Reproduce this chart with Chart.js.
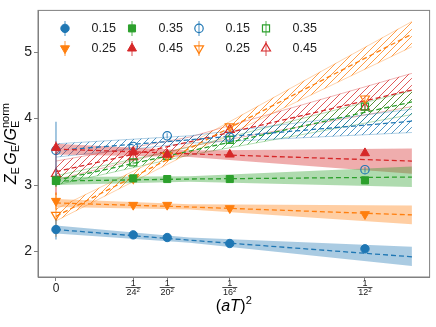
<!DOCTYPE html>
<html>
<head>
<meta charset="utf-8">
<script src="https://cdn.jsdelivr.net/npm/chart.js@4.4.1/dist/chart.umd.min.js"></script>
<style>
  html, body { margin: 0; padding: 0; background: #fff; }
</style>
</head>
<body>
<canvas id="chart" width="436" height="327"></canvas>
<script>
// ---------------------------------------------------------------------------
// Data
// ---------------------------------------------------------------------------
const X_VALUES = [0, 1 / 24 ** 2, 1 / 20 ** 2, 1 / 16 ** 2, 1 / 12 ** 2];
const X_DENOMS = [null, '24', '20', '16', '12'];
const Y_TICKS = [2, 3, 4, 5];
const LABELS = ['0.15', '0.25', '0.35', '0.45'];

// filled markers
const filled015 = [2.33, 2.25, 2.21, 2.12, 2.04];
const filled025 = [2.76, 2.70, 2.70, 2.65, 2.56];
const filled035 = [3.06, 3.10, 3.09, 3.09, 3.07];
const filled045 = [3.56, 3.50, 3.46, 3.46, 3.48];
const filled015Err = [0.15, 0.02, 0.02, 0.02, 0.02];
const filled025Err = [0.13, 0.02, 0.02, 0.02, 0.03];
const filled035Err = [0.07, 0.02, 0.02, 0.02, 0.02];
const filled045Err = [0.10, 0.03, 0.03, 0.03, 0.03];

// open markers
const open015 = [3.52, 3.58, 3.74, 3.72, 3.23];
const open025 = [2.55, 3.10, 3.44, 3.88, 4.30];
const open035 = [3.07, 3.34, 3.44, 3.68, 4.18];
const open045 = [3.17, 3.42, 3.45, 3.83, 4.17];
const open015Err = [0.43, 0.03, 0.04, 0.04, 0.04];
const open025Err = [0.33, 0.03, 0.03, 0.04, 0.05];
const open035Err = [0.10, 0.03, 0.03, 0.04, 0.05];
const open045Err = [0.32, 0.03, 0.03, 0.04, 0.05];

// continuum fits: line and band at these x
const FIT_X = [0, 0.003, 0.008];
const fitF015 = [2.33, 2.17, 1.92], loF015 = [2.27, 2.13, 1.78], hiF015 = [2.39, 2.21, 2.07];
const fitF025 = [2.73, 2.67, 2.55], loF025 = [2.67, 2.63, 2.41], hiF025 = [2.79, 2.71, 2.69];
const fitF035 = [3.06, 3.09, 3.12], loF035 = [3.00, 3.05, 2.97], hiF035 = [3.12, 3.13, 3.28];
const fitF045 = [3.54, 3.47, 3.36], loF045 = [3.46, 3.42, 3.17], hiF045 = [3.62, 3.52, 3.55];
const fitO015 = [3.52, 3.68, 3.96], loO015 = [3.42, 3.63, 3.79], hiO015 = [3.62, 3.74, 4.14];
const fitO025 = [2.53, 3.55, 5.27], loO025 = [2.46, 3.48, 5.08], hiO025 = [2.64, 3.62, 5.46];
const fitO035 = [3.07, 3.51, 4.25], loO035 = [3.00, 3.45, 4.06], hiO035 = [3.14, 3.57, 4.42];
const fitO045 = [3.20, 3.65, 4.43], loO045 = [3.08, 3.58, 4.18], hiO045 = [3.36, 3.72, 4.68];

// ---------------------------------------------------------------------------
// Styles
// ---------------------------------------------------------------------------
const BLUE = '#1f77b4', ORANGE = '#ff7f0e', GREEN = '#2ca02c', RED = '#d62728';
const GREY = '#808080';

function rgba(hex, a) {
    const n = parseInt(hex.slice(1), 16);
    return `rgba(${n >> 16},${(n >> 8) & 255},${n & 255},${a})`;
}

function hatch(color) {
    const s = 7;
    const c = document.createElement('canvas');
    c.width = s; c.height = s;
    const g = c.getContext('2d');
    g.strokeStyle = color;
    g.lineWidth = 0.9;
    g.beginPath();
    g.moveTo(0, s); g.lineTo(s, 0);
    g.moveTo(-1, 1); g.lineTo(1, -1);
    g.moveTo(s - 1, s + 1); g.lineTo(s + 1, s - 1);
    g.stroke();
    return g.createPattern(c, 'repeat');
}

const MARKERS = [
    { style: 'circle', rot: 0, r: 4.2 },
    { style: 'triangle', rot: 180, r: 5.2 },
    { style: 'rect', rot: 0, r: 5 },
    { style: 'triangle', rot: 0, r: 5.2 },
];
const COLORS = [BLUE, ORANGE, GREEN, RED];

const SERIES = [
    { k: 0, open: false, y: filled015, err: filled015Err, fit: fitF015, lo: loF015, hi: hiF015 },
    { k: 1, open: false, y: filled025, err: filled025Err, fit: fitF025, lo: loF025, hi: hiF025 },
    { k: 2, open: false, y: filled035, err: filled035Err, fit: fitF035, lo: loF035, hi: hiF035 },
    { k: 3, open: false, y: filled045, err: filled045Err, fit: fitF045, lo: loF045, hi: hiF045 },
    { k: 0, open: true, y: open015, err: open015Err, fit: fitO015, lo: loO015, hi: hiO015 },
    { k: 1, open: true, y: open025, err: open025Err, fit: fitO025, lo: loO025, hi: hiO025 },
    { k: 2, open: true, y: open035, err: open035Err, fit: fitO035, lo: loO035, hi: hiO035 },
    { k: 3, open: true, y: open045, err: open045Err, fit: fitO045, lo: loO045, hi: hiO045 },
];

// ---------------------------------------------------------------------------
// Datasets: points on top, then dashed fits, then bands underneath
// ---------------------------------------------------------------------------
const pointSets = SERIES.map(s => {
    const col = COLORS[s.k], m = MARKERS[s.k];
    return {
        label: LABELS[s.k],
        data: X_VALUES.map((x, i) => ({ x, y: s.y[i] })),
        showLine: false,
        pointStyle: m.style,
        rotation: m.rot,
        pointRadius: m.r,
        pointBorderWidth: s.open ? 1.2 : 1,
        borderColor: col,
        backgroundColor: s.open ? 'rgba(0,0,0,0)' : col,
        errors: s.err,
        errColor: rgba(col, 0.55),
        legendMarker: { ...m, col, open: s.open },
    };
});

const lineSets = SERIES.map(s => ({
    data: FIT_X.map((x, i) => ({ x, y: s.fit[i] })),
    borderColor: COLORS[s.k],
    borderWidth: 1.3,
    borderDash: [5, 3],
    pointRadius: 0,
    fill: false,
}));

const bandSets = [];
SERIES.forEach(s => {
    const col = COLORS[s.k];
    const edge = s.open ? rgba(col, 0.35) : 'rgba(0,0,0,0)';
    bandSets.push({
        data: FIT_X.map((x, i) => ({ x, y: s.lo[i] })),
        borderColor: edge,
        borderWidth: s.open ? 1 : 0,
        pointRadius: 0,
        fill: false,
    });
    bandSets.push({
        data: FIT_X.map((x, i) => ({ x, y: s.hi[i] })),
        borderColor: edge,
        borderWidth: s.open ? 1 : 0,
        pointRadius: 0,
        fill: '-1',
        backgroundColor: s.open ? hatch(rgba(col, 0.85)) : rgba(col, 0.38),
    });
});

// ---------------------------------------------------------------------------
// Plugins
// ---------------------------------------------------------------------------
const errorBars = {
    id: 'errorBars',
    beforeDatasetDraw(chart, args) {
        const ds = chart.data.datasets[args.index];
        if (!ds.errors) return;
        const { ctx, scales: { x, y } } = chart;
        ctx.save();
        ctx.strokeStyle = ds.errColor;
        ctx.lineWidth = 1.5;
        ds.data.forEach((p, i) => {
            const px = x.getPixelForValue(p.x);
            ctx.beginPath();
            ctx.moveTo(px, y.getPixelForValue(p.y - ds.errors[i]));
            ctx.lineTo(px, y.getPixelForValue(p.y + ds.errors[i]));
            ctx.stroke();
        });
        ctx.restore();
    },
};

function drawMarker(ctx, m, x, y) {
    ctx.save();
    ctx.strokeStyle = m.col;
    ctx.fillStyle = m.col;
    ctx.lineWidth = m.open ? 1.2 : 1;
    ctx.beginPath();
    if (m.style === 'circle') {
        ctx.arc(x, y, m.r, 0, Math.PI * 2);
    } else if (m.style === 'rect') {
        const h = m.r * Math.SQRT1_2;
        ctx.rect(x - h, y - h, 2 * h, 2 * h);
    } else {
        let a = m.rot * Math.PI / 180;
        for (let i = 0; i < 3; i++) {
            const px = x + Math.sin(a) * m.r, py = y - Math.cos(a) * m.r;
            i ? ctx.lineTo(px, py) : ctx.moveTo(px, py);
            a += Math.PI * 2 / 3;
        }
        ctx.closePath();
    }
    if (!m.open) ctx.fill();
    ctx.stroke();
    ctx.restore();
}

function drawRich(ctx, parts, x, y, align) {
    // parts: [text, font, dy, extra gap]
    const widths = parts.map(p => { ctx.font = p[1]; return ctx.measureText(p[0]).width + (p[3] || 0); });
    const total = widths.reduce((a, b) => a + b, 0);
    let cx = align === 'center' ? x - total / 2 : x;
    parts.forEach((p, i) => {
        ctx.font = p[1];
        ctx.fillText(p[0], cx, y + p[2]);
        cx += widths[i];
    });
}

const decorations = {
    id: 'decorations',
    afterDraw(chart) {
        const { ctx, chartArea: a, scales: { x } } = chart;
        ctx.save();

        // frame
        ctx.strokeStyle = GREY;
        ctx.lineWidth = 1;
        ctx.strokeRect(a.left, a.top, a.right - a.left, a.bottom - a.top);

        // x tick labels as fractions
        ctx.fillStyle = '#222';
        ctx.textBaseline = 'middle';
        X_VALUES.forEach((v, i) => {
            const px = x.getPixelForValue(v);
            ctx.textAlign = 'center';
            if (!X_DENOMS[i]) {
                ctx.font = '12px "Liberation Sans"';
                ctx.fillText('0', px, a.bottom + 11.5);
                return;
            }
            ctx.font = '9px "Liberation Sans"';
            ctx.fillText('1', px, a.bottom + 7);
            ctx.fillRect(px - 7.5, a.bottom + 10.2, 15, 0.8);
            ctx.textAlign = 'left';
            drawRich(ctx, [[X_DENOMS[i], '9px "Liberation Sans"', 0], ['2', '6px "Liberation Sans"', -2.5]],
                px, a.bottom + 15.5, 'center');
        });

        // x axis title (aT)^2
        ctx.textAlign = 'left';
        ctx.textBaseline = 'alphabetic';
        ctx.fillStyle = '#000';
        drawRich(ctx, [
            ['(', '16px "Liberation Sans"', 0],
            ['a', 'italic 16px "Liberation Sans"', 0],
            ['T', 'italic 16px "Liberation Sans"', 0, 0.5],
            [')', '16px "Liberation Sans"', 0],
            ['2', '11px "Liberation Sans"', -7],
        ], (a.left + a.right) / 2, 311, 'center');

        // y axis title Z_E G_E / G_E^norm
        ctx.save();
        ctx.translate(15.5, (a.top + a.bottom) / 2);
        ctx.rotate(-Math.PI / 2);
        const big = '16px "Liberation Sans"', it = 'italic 16px "Liberation Sans"', sm = '11px "Liberation Sans"';
        const parts = [
            ['Z', it, 0], ['E', sm, 3.5, 2.5], ['G', it, 0], ['E', sm, 3.5],
            ['/', big, 0], ['G', it, 0],
        ];
        ctx.font = sm;
        const wNorm = ctx.measureText('norm').width;
        const wParts = parts.map(p => { ctx.font = p[1]; return ctx.measureText(p[0]).width + (p[3] || 0); });
        const total = wParts.reduce((s, w) => s + w, 0) + wNorm;
        let cx = -total / 2;
        parts.forEach((p, i) => { ctx.font = p[1]; ctx.fillText(p[0], cx, p[2]); cx += wParts[i]; });
        ctx.font = sm;
        ctx.fillText('E', cx, 3.5);
        ctx.fillText('norm', cx, -7);
        ctx.restore();

        // legend, 2 rows x 4 columns, column-major like matplotlib
        const ds = chart.data.datasets;
        ctx.textBaseline = 'middle';
        ctx.textAlign = 'left';
        ctx.font = '12.5px "Liberation Sans"';
        for (let i = 0; i < 8; i++) {
            const col = Math.floor(i / 2), row = i % 2;
            const sIdx = (col < 2 ? 0 : 4) + (col % 2) * 2 + row;
            const d = ds[sIdx];
            const mx = a.left + 27 + col * 67, my = a.top + 18 + row * 20;
            ctx.strokeStyle = d.errColor;
            ctx.lineWidth = 1.5;
            ctx.beginPath();
            ctx.moveTo(mx, my - 7.5); ctx.lineTo(mx, my + 7.5);
            ctx.stroke();
            drawMarker(ctx, d.legendMarker, mx, my);
            ctx.fillStyle = '#222';
            ctx.fillText(d.label, mx + 26.5, my + 0.5);
        }
        ctx.restore();
    },
};

// ---------------------------------------------------------------------------
// Chart
// ---------------------------------------------------------------------------
Chart.defaults.font.family = '"Liberation Sans", sans-serif';

new Chart(document.getElementById('chart'), {
    type: 'line',
    data: { datasets: [...pointSets, ...lineSets, ...bandSets] },
    options: {
        responsive: false,
        animation: false,
        layout: { padding: { top: 5, right: 6, left: 0, bottom: 0 } },
        plugins: { legend: { display: false }, tooltip: { enabled: false } },
        elements: { line: { tension: 0 } },
        scales: {
            x: {
                type: 'linear',
                min: -0.000404,
                max: 0.008397,
                afterBuildTicks: s => { s.ticks = X_VALUES.map(v => ({ value: v })); },
                afterFit: s => { s.height = 50; },
                ticks: { callback: () => '', maxRotation: 0, autoSkip: false },
                grid: { drawOnChartArea: false, color: GREY, tickLength: 4 },
                border: { color: GREY },
            },
            y: {
                type: 'linear',
                min: 1.616,
                max: 5.627,
                afterBuildTicks: s => { s.ticks = Y_TICKS.map(v => ({ value: v })); },
                afterFit: s => { s.width = 38; },
                ticks: { color: '#222', font: { size: 14 }, padding: 2 },
                grid: { drawOnChartArea: false, color: GREY, tickLength: 4 },
                border: { color: GREY },
            },
        },
    },
    plugins: [errorBars, decorations],
});
</script>
</body>
</html>
